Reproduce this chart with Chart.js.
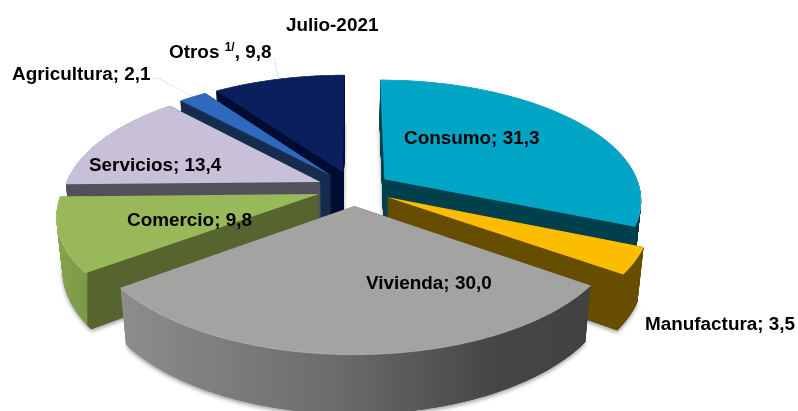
<!DOCTYPE html>
<html>
<head>
<meta charset="utf-8">
<script src="https://cdn.jsdelivr.net/npm/chart.js@4"></script>
<style>
  html, body { margin: 0; padding: 0; background: #fff; }
  canvas { display: block; }
</style>
</head>
<body>
<canvas id="chart" width="798" height="411"></canvas>
<script>
const title = "Julio-2021";
const categories = ["Consumo", "Manufactura", "Vivienda", "Comercio", "Servicios", "Agricultura", "Otros"];
const values = [31.3, 3.5, 30.0, 9.8, 13.4, 2.1, 9.8];
const topColors = ["#00a5c6", "#fcbc00", "#a3a3a2", "#99b85a", "#c8bfd8", "#2f69bd", "#0a1f5c"];

// side wall colours, as gradient stops across the slice from left to right
const wallStops = [
  [[0, "#003f4c"], [1, "#003f4c"]],
  [[0, "#664d00"], [1, "#664d00"]],
  [[0, "#8d8e8b"], [0.45, "#6c6d6b"], [0.8, "#454545"], [1, "#424242"]],
  [[0, "#86a34f"], [0.115, "#7d9948"], [0.12, "#56652f"], [1, "#56652f"]],
  [[0, "#52505c"], [1, "#52505c"]],
  [[0, "#152c4f"], [1, "#152c4f"]],
  [[0, "#010c35"], [1, "#010c35"]],
];
// back slices first so the front ones cover them
const paintOrder = [6, 5, 4, 3, 0, 1, 2];

// camera fitted to the picture
const cam = { cx: 354, cy: 188.5, sx: 256, sy: 118.4, persp: 0.162, depth: 53, sink: 0.02, explode: 0.144 };

const labelFont = 'bold 18.9px "Liberation Sans", Arial, sans-serif';
const labelPos = [[404, 144], [645, 330], [366, 289], [127, 226], [89, 171], [12, 80], [169, 58]];
const titlePos = [286, 31];
const leaderStarts = { 5: [153, 78], 6: [274, 58] };

function project(x, y, z) {
  const w = 1 - cam.persp * y + cam.sink * z;
  return { x: cam.cx + cam.sx * x / w, y: cam.cy + (cam.sy * y + cam.depth * z) / w };
}

// the arc element draws itself on this stand-in, which sends every vertex through the camera
function cameraContext(ctx, arc, z) {
  const mid = (arc.startAngle + arc.endAngle) / 2;
  const put = (px, py) => {
    const p = project((px - arc.x) / arc.outerRadius + cam.explode * Math.cos(mid),
                      (py - arc.y) / arc.outerRadius + cam.explode * Math.sin(mid), z);
    ctx.lineTo(p.x, p.y);
  };
  const methods = {
    beginPath: () => ctx.beginPath(),
    closePath: () => ctx.closePath(),
    fill: () => ctx.fill(),
    moveTo: put,
    lineTo: put,
    arc: (x, y, r, a0, a1, ccw) => {
      const n = 60;
      let end = a1;
      if (ccw && end > a0) end -= Math.PI * 2;
      for (let i = 0; i <= n; i++) {
        const a = a0 + (end - a0) * i / n;
        put(x + r * Math.cos(a), y + r * Math.sin(a));
      }
    },
  };
  return new Proxy({}, {
    get: (t, k) => methods[k] || (() => {}),
    set: () => true,
  });
}

function rimPoint(arc, a, z) {
  const mid = (arc.startAngle + arc.endAngle) / 2;
  return project(Math.cos(a) + cam.explode * Math.cos(mid), Math.sin(a) + cam.explode * Math.sin(mid), z);
}

function wallGradient(ctx, arc, stops) {
  const xs = [project(cam.explode * Math.cos((arc.startAngle + arc.endAngle) / 2),
                      cam.explode * Math.sin((arc.startAngle + arc.endAngle) / 2), 0).x];
  for (let i = 0; i <= 40; i++) {
    xs.push(rimPoint(arc, arc.startAngle + (arc.endAngle - arc.startAngle) * i / 40, 0).x);
  }
  const g = ctx.createLinearGradient(Math.min(...xs), 0, Math.max(...xs), 0);
  stops.forEach((s) => g.addColorStop(s[0], s[1]));
  return g;
}

const pie3d = {
  id: "pie3d",
  beforeDatasetsDraw(chart) {
    const ctx = chart.ctx;
    const arcs = chart.getDatasetMeta(0).data;
    paintOrder.forEach((i) => {
      const arc = arcs[i];
      ctx.save();
      ctx.fillStyle = wallGradient(ctx, arc, wallStops[i]);
      // thin layers, thick ones leave a comb pattern at the narrow tips
      const steps = 300;
      for (let s = steps; s > 0; s--) {
        if (s === steps) {
          ctx.shadowColor = "rgba(0,0,0,0.4)";
          ctx.shadowBlur = 4;
          ctx.shadowOffsetY = 2;
        } else {
          ctx.shadowColor = "transparent";
        }
        arc.draw(cameraContext(ctx, arc, s / steps));
      }
      ctx.fillStyle = arc.options.backgroundColor;
      arc.draw(cameraContext(ctx, arc, 0));
      // light rim along the outer edge
      ctx.strokeStyle = "rgba(255,255,255,0.2)";
      ctx.lineWidth = 1;
      ctx.beginPath();
      for (let k = 0; k <= 40; k++) {
        const p = rimPoint(arc, arc.startAngle + (arc.endAngle - arc.startAngle) * k / 40, 0);
        ctx.lineTo(p.x, p.y);
      }
      ctx.stroke();
      ctx.restore();
    });
    drawLabels(chart, arcs);
    return false;
  },
};

function drawLabels(chart, arcs) {
  const ctx = chart.ctx;
  ctx.save();
  // leader lines
  ctx.strokeStyle = "#a6a6a6";
  ctx.lineWidth = 0.75;
  ctx.setLineDash([1, 1.5]);
  Object.keys(leaderStarts).forEach((i) => {
    const arc = arcs[i];
    const end = rimPoint(arc, (arc.startAngle + arc.endAngle) / 2, 0);
    const start = leaderStarts[i];
    ctx.beginPath();
    ctx.moveTo(start[0], start[1]);
    if (+i === 5) ctx.lineTo(start[0] + 7, start[1] + 1);
    ctx.lineTo(end.x, end.y);
    ctx.stroke();
  });
  ctx.setLineDash([]);

  ctx.fillStyle = "#000";
  ctx.font = labelFont;
  ctx.textBaseline = "alphabetic";
  ctx.fillText(title, titlePos[0], titlePos[1]);
  categories.forEach((name, i) => {
    const val = values[i].toFixed(1).replace(".", ",");
    const [x, y] = labelPos[i];
    if (name === "Otros") {
      // footnote mark in superscript, and a comma as in the original
      ctx.fillText(name + " ", x, y);
      let cx = x + ctx.measureText(name + " ").width;
      ctx.font = 'bold 12px "Liberation Sans", Arial, sans-serif';
      ctx.fillText("1/", cx, y - 7);
      cx += ctx.measureText("1/").width;
      ctx.font = labelFont;
      ctx.fillText(", " + val, cx, y);
    } else {
      ctx.fillText(name + "; " + val, x, y);
    }
  });
  ctx.restore();
}

new Chart(document.getElementById("chart"), {
  type: "pie",
  data: {
    labels: categories,
    datasets: [{ data: values, backgroundColor: topColors, borderWidth: 0, offset: 0 }],
  },
  options: {
    responsive: false,
    animation: false,
    events: [],
    plugins: { legend: { display: false }, tooltip: { enabled: false }, title: { display: false } },
  },
  plugins: [pie3d],
});
</script>
</body>
</html>
